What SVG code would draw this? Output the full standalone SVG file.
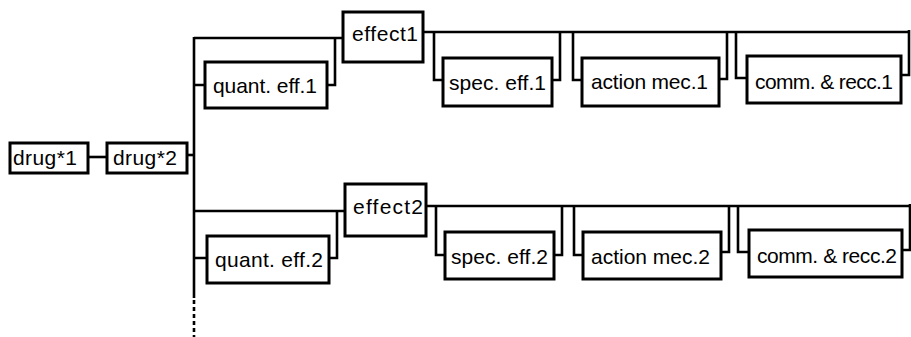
<svg xmlns="http://www.w3.org/2000/svg" width="911" height="337" viewBox="0 0 911 337">
<style>
.box{fill:#fff;stroke:#000;stroke-width:3}
.ln{fill:none;stroke:#000;stroke-width:2.6}
.dot{fill:none;stroke:#000;stroke-width:2.6;stroke-dasharray:4 3}
text{font-family:"Liberation Sans",Arial,sans-serif;font-size:21px;fill:#000;text-anchor:middle}
</style>
<rect width="911" height="337" fill="#fff"/>
<g id="connectors">
<path class="ln" d="M88 157H107"/>
<path class="ln" d="M187 155H194"/>
<path class="ln" d="M194 37V298"/>
<path class="dot" d="M194 300V337"/>
<path class="ln" d="M194 38H343"/>
<path class="ln" d="M194 85H205M327 85H335V38"/>
<path class="ln" d="M423 32H909"/>
<path class="ln" d="M434 32V80H443M552 80H560V32"/>
<path class="ln" d="M573 32V80H582M719 79H727V31"/>
<path class="ln" d="M736 31V78H747M901 75H909V30"/>
<path class="ln" d="M194 211H345"/>
<path class="ln" d="M194 258H207M329 258H337V211"/>
<path class="ln" d="M426 206H910"/>
<path class="ln" d="M436 206V255H445M554 255H562V206"/>
<path class="ln" d="M574 206V255H583M721 252H729V205"/>
<path class="ln" d="M738 205V252H749M902 250H910V204"/>
</g>
<g id="drug1"><rect class="box" x="10" y="143" width="78" height="30"/><text x="45" y="165" textLength="64" lengthAdjust="spacing">drug*1</text></g>
<g id="drug2"><rect class="box" x="107" y="143" width="80" height="30"/><text x="145" y="165" textLength="64" lengthAdjust="spacing">drug*2</text></g>
<g id="effect1"><rect class="box" x="343" y="12" width="80" height="50"/><text x="385" y="41" textLength="66" lengthAdjust="spacing">effect1</text></g>
<g id="quant1"><rect class="box" x="205" y="62" width="122" height="46"/><text x="265" y="93" textLength="104" lengthAdjust="spacing">quant. eff.1</text></g>
<g id="spec1"><rect class="box" x="443" y="58" width="109" height="48"/><text x="497.5" y="90" textLength="97" lengthAdjust="spacing">spec. eff.1</text></g>
<g id="action1"><rect class="box" x="582" y="58" width="137" height="48"/><text x="649.5" y="89" textLength="117" lengthAdjust="spacing">action mec.1</text></g>
<g id="comm1"><rect class="box" x="747" y="56" width="154" height="47"/><text x="824" y="89" textLength="138" lengthAdjust="spacing">comm. &amp; recc.1</text></g>
<g id="effect2"><rect class="box" x="345" y="184" width="81" height="52"/><text x="388" y="214" textLength="70" lengthAdjust="spacing">effect2</text></g>
<g id="quant2"><rect class="box" x="207" y="236" width="122" height="47"/><text x="269" y="267" textLength="108" lengthAdjust="spacing">quant. eff.2</text></g>
<g id="spec2"><rect class="box" x="445" y="232" width="109" height="47"/><text x="499.5" y="264" textLength="97" lengthAdjust="spacing">spec. eff.2</text></g>
<g id="action2"><rect class="box" x="583" y="232" width="138" height="47"/><text x="650.5" y="264" textLength="119" lengthAdjust="spacing">action mec.2</text></g>
<g id="comm2"><rect class="box" x="749" y="230" width="153" height="47"/><text x="827" y="263" textLength="140" lengthAdjust="spacing">comm. &amp; recc.2</text></g>
</svg>
